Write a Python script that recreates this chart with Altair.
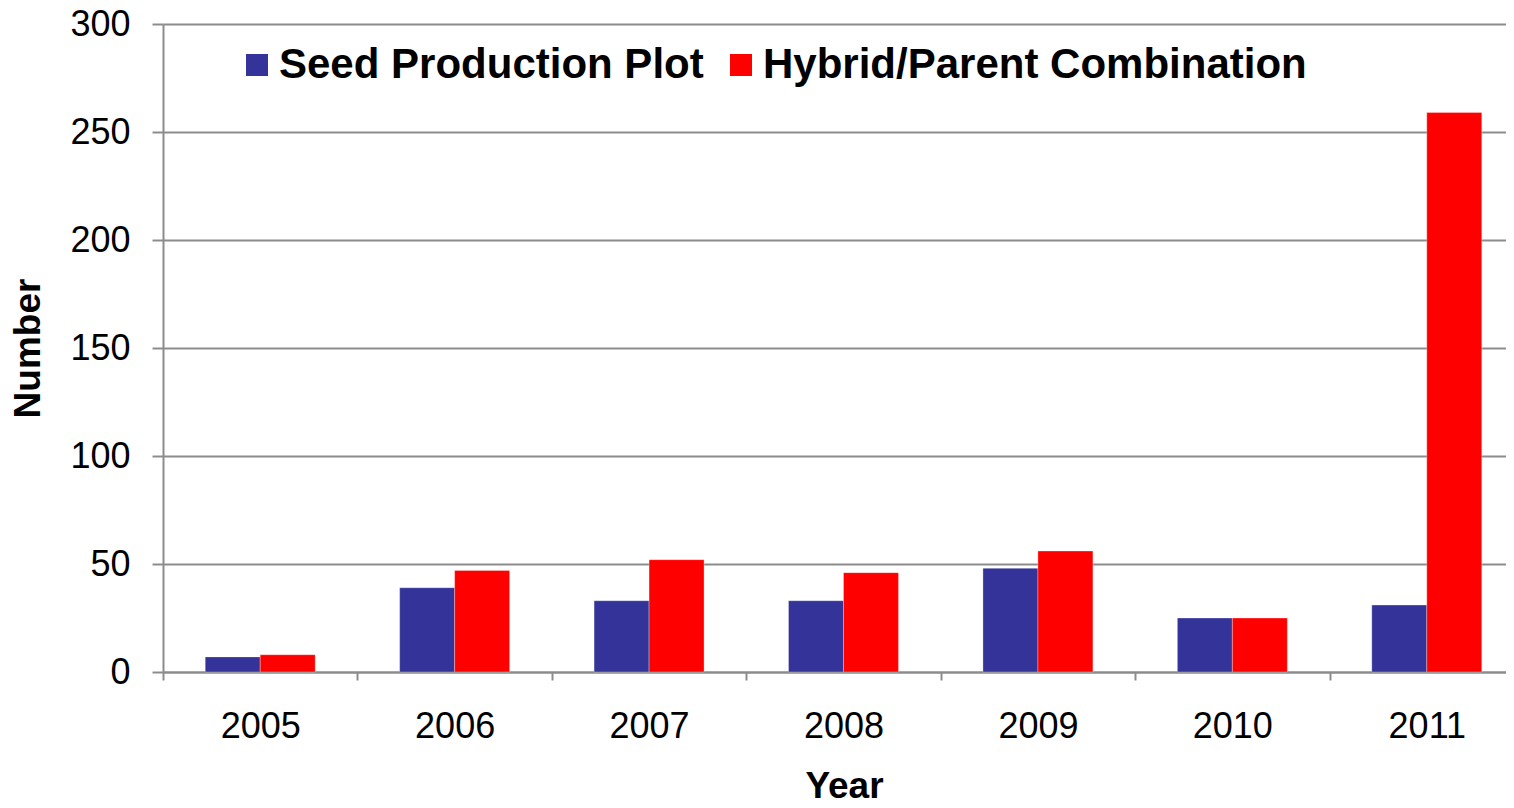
import altair as alt
import pandas as pd

years = ["2005", "2006", "2007", "2008", "2009", "2010", "2011"]
seed_plot = [7, 39, 33, 33, 48, 25, 31]
hybrid_parent = [8, 47, 52, 46, 56, 25, 259]
series_names = ["Seed Production Plot", "Hybrid/Parent Combination"]
series_colors = ["#333399", "#FF0000"]

rows = []
for y, a, b in zip(years, seed_plot, hybrid_parent):
    rows.append({"Year": y, "Series": series_names[0], "Number": a})
    rows.append({"Year": y, "Series": series_names[1], "Number": b})
df = pd.DataFrame(rows)

FONT = "Liberation Sans"
GRID = "#8c8c8c"

chart = alt.Chart(df).mark_bar(stroke="#ffffff", strokeWidth=0.5, strokeOpacity=0.6).encode(
    x=alt.X("Year:N", sort=years,
            scale=alt.Scale(paddingInner=0, paddingOuter=0),
            axis=alt.Axis(title="Year", labelAngle=0, tickBand="extent", tickSize=8,
                          tickWidth=2, tickColor=GRID, domainColor=GRID, domainWidth=2,
                          labelFontSize=36, labelFont=FONT, labelColor="#000000",
                          labelPadding=29, titleFontSize=37, titleFont=FONT,
                          titleFontWeight="bold", titleColor="#000000",
                          titleX=681, titleY=114, titleBaseline="middle",
                          titleAlign="center", grid=False)),
    xOffset=alt.XOffset("Series:N", sort=series_names,
                        scale=alt.Scale(paddingInner=0, paddingOuter=0.768)),
    y=alt.Y("Number:Q", scale=alt.Scale(domain=[0, 300], nice=False),
            axis=alt.Axis(title="Number", values=[0, 50, 100, 150, 200, 250, 300],
                          tickSize=11, tickWidth=2, tickColor=GRID,
                          domainColor=GRID, domainWidth=2, gridColor=GRID, gridWidth=2,
                          labelFontSize=36, labelFont=FONT, labelColor="#000000",
                          labelPadding=22, titleFontSize=37, titleFont=FONT,
                          titleFontWeight="bold", titleColor="#000000",
                          titleAngle=270, titleX=-135, titleY=324,
                          titleBaseline="middle", titleAlign="center")),
    color=alt.Color("Series:N", sort=series_names,
                    scale=alt.Scale(domain=series_names, range=series_colors),
                    legend=alt.Legend(title=None, orient="none", direction="horizontal",
                                      legendX=73, legendY=20, symbolType="square",
                                      symbolSize=484, symbolStrokeWidth=0,
                                      labelFontSize=42, labelFont=FONT,
                                      labelFontWeight="bold", labelColor="#000000",
                                      labelOffset=1, columnPadding=16,
                                      labelLimit=1000, symbolOpacity=1)),
).properties(
    width=1361,
    height=648,
    autosize=alt.AutoSizeParams(type="none"),
    padding={"left": 155, "top": 16, "right": -18, "bottom": 128},
).configure_view(stroke=None)

chart.save("out.html", embed_options={"renderer": "svg", "actions": False})
